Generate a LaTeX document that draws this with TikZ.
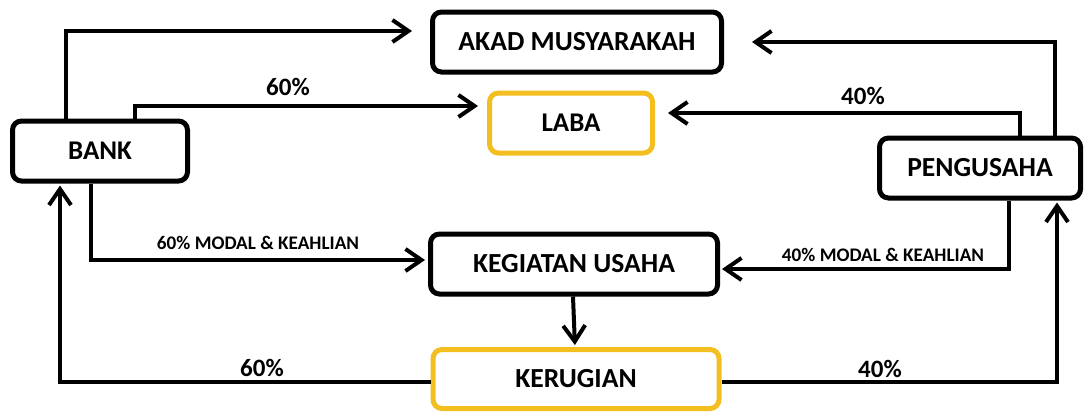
\documentclass[tikz,border=0pt]{standalone}
\usepackage{fontspec}
\setmainfont{Carlito}
\usetikzlibrary{arrows.meta}
\definecolor{labagold}{RGB}{242,190,32}

\begin{document}
\begin{tikzpicture}[x=0.5pt, y=-0.5pt,
  box/.style={draw, line width=2.5pt, rounded corners=4.5pt, inner sep=0pt,
    font=\fontsize{13.8}{16}\selectfont\bfseries},
  goldbox/.style={box, draw=labagold},
  arr/.style={line width=2pt, -{Straight Barb[length=8pt, width=11pt]}},
  pct/.style={inner sep=0pt, font=\fontsize{12.5}{14}\selectfont\bfseries},
  tag/.style={inner sep=0pt, font=\fontsize{9.6}{11}\selectfont\bfseries}]
%\draw [help lines, step=50] (0,0) grid (1086,413);
\useasboundingbox (0,0) rectangle (1086,413);

\node [box, minimum width=144.5pt, minimum height=30pt] (akad) at (577,42) {AKAD MUSYARAKAH};
\node [goldbox, minimum width=81.5pt, minimum height=30pt, font=\fontsize{13.5}{16}\selectfont\bfseries] (laba) at (571,123) {LABA};
\node [box, minimum width=87.5pt, minimum height=30pt, font=\fontsize{13.5}{16}\selectfont\bfseries] (bank) at (100,151) {BANK};
\node [box, minimum width=100.5pt, minimum height=30pt] (pengusaha) at (980,168) {PENGUSAHA};
\node [box, minimum width=143.5pt, minimum height=30pt] (kegiatan) at (574,264) {KEGIATAN USAHA};
\node [goldbox, minimum width=143pt, minimum height=29.5pt] (kerugian) at (576,379) {KERUGIAN};

\draw [arr, shorten >=9pt] ([xshift=-17pt]bank.north) |- ([yshift=5.5pt]akad.west);
\draw [arr, shorten >=4.5pt] ([xshift=17.5pt]bank.north) |- ([yshift=8.5pt]laba.west);
\draw [arr, shorten >=1.5pt] ([xshift=-4.5pt]bank.south) |- ([yshift=2pt]kegiatan.west);

\draw [arr, shorten >=14pt] ([xshift=37.5pt]pengusaha.north) |- (akad.east);
\draw [arr, shorten >=6.5pt] ([xshift=20pt]pengusaha.north) |- ([yshift=5pt]laba.east);
\draw [arr, shorten >=1pt] ([xshift=14.5pt]pengusaha.south) |- ([yshift=-2.5pt]kegiatan.east);

\draw [arr, shorten >=1pt] ([xshift=-0.5pt]kegiatan.south) -- ([xshift=-0.5pt]kerugian.north);

\draw [arr, shorten >=1pt] ([yshift=-1.5pt]kerugian.west) -| ([xshift=-20pt]bank.south);
\draw [arr, shorten >=1pt] ([yshift=-1.5pt]kerugian.east) -| ([xshift=38.5pt]pengusaha.south);

\node [pct] (bankpct) at (288,87) {60\%};
\node [pct] (pengpct) at (863,96) {40\%};
\node [tag] (bankmodal) at (258,243) {60\% MODAL \& KEAHLIAN};
\node [tag] (pengmodal) at (883,255) {40\% MODAL \& KEAHLIAN};
\node [pct] (rugibank) at (262,368) {60\%};
\node [pct] (rugipeng) at (880,369) {40\%};

\end{tikzpicture}
\end{document}
